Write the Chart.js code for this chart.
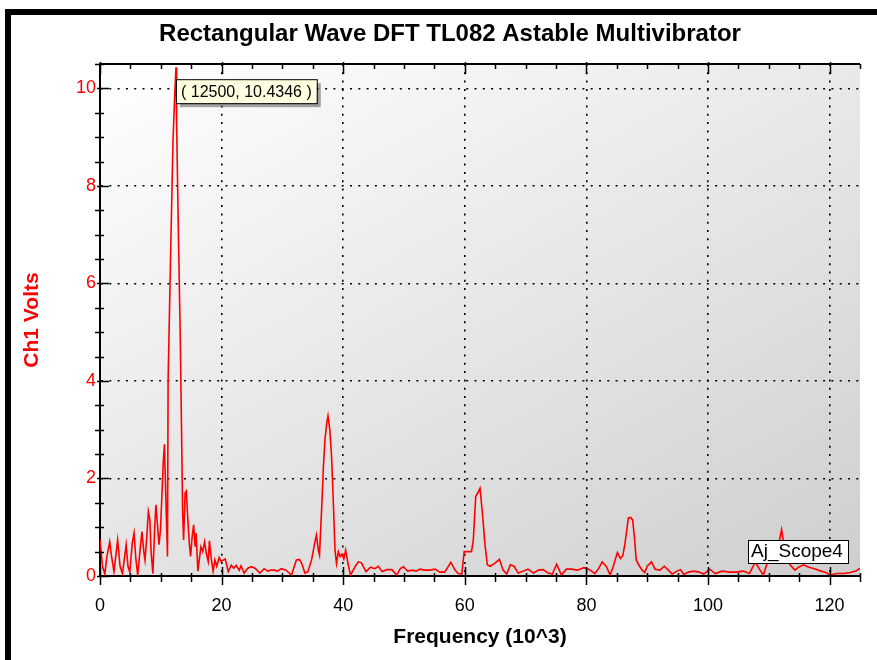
<!DOCTYPE html>
<html>
<head>
<meta charset="utf-8">
<script src="https://cdn.jsdelivr.net/npm/chart.js@4.4.1/dist/chart.umd.min.js"></script>
<style>
  body { margin:0; background:#fff; }
  #wrap { width:877px; height:660px; position:relative; }
</style>
</head>
<body>
<div id="wrap"><canvas id="grafico"></canvas></div>
<script>
const titulo = "Rectangular Wave DFT TL082 Astable Multivibrator";
const tituloX = "Frequency (10^3)";
const tituloY = "Ch1 Volts";
const nomeSerie = "Aj_Scope4";
const marcaPico = { f:12.5, v:10.4346, texto:"( 12500, 10.4346 )" };

// frequencia em kHz
const freqK = [
  0, 0.4, 0.8, 1.1, 1.6, 1.9, 2.3, 2.9, 3.3, 3.7,
  4.3, 4.6, 4.9, 5.3, 5.6, 5.9, 6.2, 6.6, 6.9, 7.2,
  7.4, 7.7, 7.95, 8.2, 8.4, 8.7, 9.0, 9.2, 9.45, 9.7,
  9.95, 10.2, 10.4, 10.6, 10.85, 11.1, 11.2, 11.6, 12.0, 12.3,
  12.5, 12.6, 12.9, 13.2, 13.4, 13.6, 13.75, 14.0, 14.2, 14.45,
  14.7, 14.9, 15.15, 15.4, 15.65, 15.8, 16.1, 16.35, 16.6, 16.9,
  17.2, 17.5, 17.8, 18.0, 18.3, 18.6, 18.9, 19.2, 19.6, 19.9,
  20.6, 21.1, 21.6, 22.0, 22.4, 22.9, 23.2, 23.7, 24.3, 24.9,
  25.5, 26.3, 27.0, 27.6, 28.1, 28.7, 29.2, 29.8, 30.6, 31.5,
  32.3, 32.8, 33.2, 33.7, 34.2, 34.8, 35.3, 35.6, 35.9, 36.1,
  36.5, 36.75, 37.0, 37.3, 37.5, 37.8, 38.1, 38.4, 38.65, 38.9,
  39.2, 39.5, 39.8, 40.1, 40.4, 40.8, 41.2,
  42.0, 42.5, 43.0, 43.75, 44.5, 45.2, 45.8, 46.4, 47.2, 48.0,
  48.8, 49.4, 49.9, 50.6, 51.4, 52.0, 52.6, 53.4, 54.2, 55.1,
  55.9, 56.7, 57.7, 58.4, 58.9, 59.5, 59.9, 60.6, 61.1, 61.4,
  61.8, 62.2, 62.5, 62.9, 63.3, 63.7, 64.2, 64.9, 65.7, 66.3,
  66.9, 67.5, 68.1, 68.8, 69.6, 70.4, 71.3, 72.1, 72.9, 73.7,
  74.4, 75.1, 75.9, 76.7, 77.6, 78.5, 79.6, 80.4, 81.4, 82.0,
  82.6, 83.3, 83.9, 84.4, 84.8, 85.1, 85.6, 86.0, 86.35, 86.6,
  86.9, 87.3, 87.6, 87.9, 88.2, 88.6, 89.1, 89.6, 90.0, 90.7,
  91.3, 92.1, 92.8, 93.4, 94.1, 94.9, 95.5, 96.0, 96.8, 97.7,
  98.5, 99.3, 100.3, 101.2, 102.3, 103.6, 104.6, 105.8, 106.8, 107.8,
  108.4, 109.1, 109.9, 110.6, 111.2, 111.7, 112.1, 112.4, 112.8, 113.5,
  114.3, 114.9, 115.7, 116.6, 117.5, 118.6, 119.4, 120.1, 121.2, 122.3,
  123.4, 124.3, 125.0
];

// amplitude em volts
const volts = [
  0.75, 0.2, 0.04, 0.37, 0.7, 0.4, 0.09, 0.74, 0.2, 0.05,
  0.64, 0.2, 0.08, 0.67, 0.88, 0.35, 0.02, 0.55, 0.91, 0.5,
  0.33, 0.8, 1.32, 1.15, 0.5, 0.05, 1.0, 1.46, 1.05, 0.64,
  0.95, 1.7, 2.32, 2.7, 1.5, 0.4, 4.0, 6.5, 8.9, 9.9,
  10.4346, 9.3, 7.0, 4.9, 3.1, 1.25, 0.74, 1.7, 1.74, 1.15,
  0.65, 0.4, 0.8, 1.05, 0.6, 0.88, 0.1, 0.35, 0.6, 0.5,
  0.7, 0.45, 0.3, 0.72, 0.35, 0.1, 0.33, 0.2, 0.38, 0.3,
  0.35, 0.09, 0.22, 0.16, 0.22, 0.12, 0.21, 0.06, 0.16, 0.19,
  0.16, 0.06, 0.15, 0.1, 0.12, 0.12, 0.1, 0.15, 0.12, 0.02,
  0.33, 0.34, 0.25, 0.06, 0.09, 0.33, 0.67, 0.84, 0.53, 0.43,
  1.5, 2.25, 2.8, 3.14, 3.28, 3.0, 2.42, 1.43, 0.53, 0.26,
  0.5, 0.4, 0.45, 0.35, 0.53, 0.25, 0.02,
  0.2, 0.29, 0.27, 0.09, 0.18, 0.15, 0.2, 0.09, 0.13, 0.13,
  0.02, 0.15, 0.19, 0.1, 0.12, 0.1, 0.14, 0.12, 0.12, 0.14,
  0.08, 0.08, 0.28, 0.12, 0.05, 0.04, 0.5, 0.5, 0.5, 0.74,
  1.63, 1.72, 1.8, 1.29, 0.67, 0.23, 0.2, 0.26, 0.34, 0.12,
  0.04, 0.23, 0.2, 0.06, 0.1, 0.14, 0.06, 0.12, 0.13, 0.06,
  0.04, 0.24, 0.02, 0.14, 0.14, 0.12, 0.17, 0.14, 0.05, 0.15,
  0.29, 0.19, 0.02, 0.19, 0.36, 0.48, 0.36, 0.42, 0.67, 0.9,
  1.19, 1.2, 1.15, 0.8, 0.33, 0.23, 0.13, 0.07, 0.2, 0.29,
  0.14, 0.12, 0.2, 0.13, 0.04, 0.1, 0.13, 0.03, 0.08, 0.1,
  0.08, 0.04, 0.14, 0.05, 0.1, 0.08, 0.08, 0.1, 0.05, 0.29,
  0.15, 0.02, 0.33, 0.3, 0.55, 0.7, 0.95, 0.7, 0.4, 0.23,
  0.12, 0.18, 0.23, 0.18, 0.15, 0.1, 0.07, 0.02, 0.05, 0.05,
  0.07, 0.1, 0.16
];

const ticksX = [0, 20, 40, 60, 80, 100, 120];
const ticksY = [0, 2, 4, 6, 8, 10];

if (freqK.length !== volts.length) console.error("tamanhos diferentes", freqK.length, volts.length);

const fonteNum = '"Liberation Sans", Arial, sans-serif';
const fonteTxt = '"Liberation Sans", Arial, sans-serif';

const fundo = {
  id: 'fundo',
  beforeDraw(chart){
    const {ctx, chartArea:a, width, height} = chart;
    ctx.save();
    ctx.fillStyle = '#fff';
    ctx.fillRect(0, 0, width, height);
    const g = ctx.createLinearGradient(a.left, a.top, a.left + 393, a.top + 714);
    g.addColorStop(0, '#ffffff');
    g.addColorStop(1, '#cecece');
    ctx.fillStyle = g;
    ctx.fillRect(a.left, a.top, a.right - a.left, a.bottom - a.top);
    // moldura preta
    ctx.fillStyle = '#000';
    ctx.fillRect(5, 9, 6, height - 9);
    ctx.fillRect(5, 9, width - 5, 6);
    // titulo
    ctx.font = 'bold 24px ' + fonteTxt;
    ctx.textAlign = 'center';
    ctx.textBaseline = 'middle';
    ctx.fillText(titulo, 450, 34);
    ctx.restore();
  }
};

const eixos = {
  id: 'eixos',
  afterDraw(chart){
    const {ctx, chartArea:a, scales:{x, y}} = chart;
    ctx.save();
    ctx.strokeStyle = '#000';
    ctx.lineWidth = 2;
    ctx.beginPath();
    ctx.moveTo(a.left, a.top); ctx.lineTo(a.right, a.top);
    ctx.stroke();
    ctx.lineWidth = 1.5;
    // marcas do eixo x (baixo e topo)
    for (let f = 0; f <= 125; f += 5) {
      const px = Math.round(x.getPixelForValue(f)) + 0.5;
      const maior = f % 20 === 0;
      ctx.beginPath();
      ctx.moveTo(px, maior ? a.bottom - 9 : a.bottom - 3);
      ctx.lineTo(px, maior ? a.bottom + 9 : a.bottom + 6);
      ctx.moveTo(px, maior ? a.top - 2 : a.top);
      ctx.lineTo(px, maior ? a.top + 10 : a.top + 5);
      ctx.stroke();
    }
    // marcas do eixo y
    for (let v = 0; v <= 10.5; v += 0.5) {
      const py = Math.round(y.getPixelForValue(v)) + 0.5;
      const maior = v % 2 === 0;
      ctx.beginPath();
      ctx.moveTo(maior ? a.left - 3 : a.left - 5, py);
      ctx.lineTo(maior ? a.left + 9 : a.left + 4, py);
      ctx.stroke();
    }
    // caixa do pico
    const bx = x.getPixelForValue(marcaPico.f);
    const by = y.getPixelForValue(marcaPico.v) + 12;
    ctx.font = '16px ' + fonteNum;
    const lw = ctx.measureText(marcaPico.texto).width + 10;
    ctx.fillStyle = 'rgba(90,90,90,0.55)';
    ctx.fillRect(bx + 4, by + 4, lw, 24);
    ctx.fillStyle = '#ffffe1';
    ctx.fillRect(bx, by, lw, 24);
    ctx.lineWidth = 1;
    ctx.strokeRect(bx + 0.5, by + 0.5, lw, 24);
    ctx.fillStyle = '#000';
    ctx.textAlign = 'left';
    ctx.textBaseline = 'middle';
    ctx.fillText(marcaPico.texto, bx + 5, by + 13);
    // caixa da serie
    const lx = a.right - 112, ly = a.bottom - 36;
    ctx.fillStyle = '#fff';
    ctx.fillRect(lx, ly, 100, 23);
    ctx.strokeRect(lx + 0.5, ly + 0.5, 100, 23);
    ctx.fillStyle = '#000';
    ctx.font = '19px ' + fonteTxt;
    ctx.fillText(nomeSerie, lx + 3, ly + 12);
    ctx.restore();
  }
};

const ctx = document.getElementById('grafico').getContext('2d');
new Chart(ctx, {
  type: 'line',
  data: {
    datasets: [{
      label: nomeSerie,
      data: freqK.map((f, i) => ({x:f, y:volts[i]})),
      borderColor: '#ff0000',
      borderWidth: 1.6,
      pointRadius: 0,
      tension: 0,
      fill: false
    }]
  },
  options: {
    responsive: true,
    maintainAspectRatio: false,
    animation: false,
    layout: { padding: { left:0, right:17, top:64, bottom:0 } },
    plugins: { legend: {display:false}, tooltip: {enabled:false}, title: {display:false} },
    scales: {
      x: {
        type: 'linear', min: 0, max: 125,
        afterFit: s => { s.height = 84; },
        afterBuildTicks: s => { s.ticks = ticksX.map(v => ({value:v})); },
        ticks: { color:'#000', padding:19, font:{family:fonteNum, size:18}, maxRotation:0 },
        grid: { color:'#000', lineWidth:1.6, drawTicks:false },
        border: { display:true, color:'#000', width:2, dash:[2, 6.3] },
        title: { display:true, text:tituloX, color:'#000', font:{family:fonteTxt, size:21, weight:'bold'}, padding:{top:0, bottom:10} }
      },
      y: {
        type: 'linear', min: 0, max: 10.5,
        afterFit: s => { s.width = 100; },
        afterBuildTicks: s => { s.ticks = ticksY.map(v => ({value:v})); },
        ticks: { color:'#ff0000', padding:4, font:{family:fonteNum, size:18} },
        grid: { color:'#000', lineWidth:1.6, drawTicks:false },
        border: { display:true, color:'#000', width:2, dash:[2, 6.3] },
        title: { display:true, text:tituloY, color:'#ff0000', font:{family:fonteTxt, size:21, weight:'bold'}, padding:{top:20, bottom:0} }
      }
    }
  },
  plugins: [fundo, eixos]
});
</script>
</body>
</html>
